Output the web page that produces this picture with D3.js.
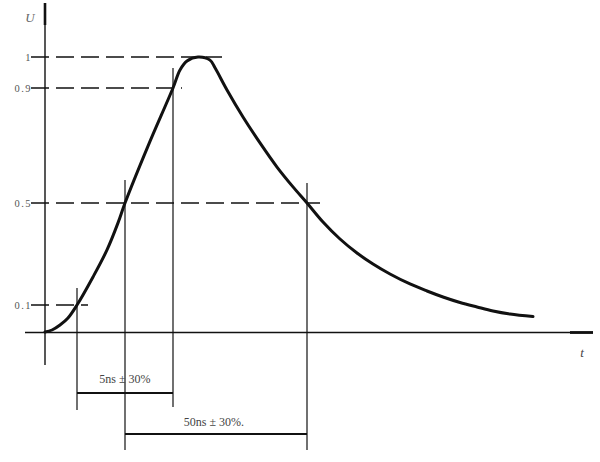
<!DOCTYPE html>
<html><head><meta charset="utf-8">
<script src="https://cdn.jsdelivr.net/npm/d3@7"></script>
<style>body{margin:0;background:#fff}svg{display:block}</style>
</head><body>
<svg id="c" width="600" height="462"></svg>
<script>
// pulse waveform: t in arbitrary units, U normalised
const tValues = [0, 1.4, 3, 4.6, 6.4, 9.6, 12.4, 14.6, 16, 20.6, 25.6, 27, 28.4, 30.6, 33, 34, 36.4, 39.6, 43, 46.4, 49.6, 52.4, 55.6, 59, 62.4, 65.6, 69, 73, 76.4, 79.6, 83, 86.4, 89.6, 93, 97.6];
const uValues = [0, 0.0074, 0.026, 0.052, 0.1, 0.210, 0.316, 0.422, 0.5, 0.698, 0.9, 0.958, 0.987, 1.0, 0.99, 0.965, 0.893, 0.799, 0.709, 0.625, 0.556, 0.5, 0.4255, 0.3588, 0.3039, 0.2608, 0.2216, 0.1824, 0.1549, 0.1314, 0.1098, 0.0926, 0.0778, 0.0667, 0.0574];
const levelTicks = [0.1, 0.5, 0.9, 1];
const levelLabels = ["0.1", "0.5", "0.9", "1"];
// marker times where levels are crossed
const crossTimes = [6.4, 16, 25.6, 52.4];
const levelLineEnds = [8.6, 55, 27.4, 35.4]; // dashed line end time for each level tick
const spanLabels = ["5ns ± 30%", "50ns ± 30%."];
const spanStarts = [6.4, 16];
const spanEnds = [25.6, 52.4];

const svg = d3.select("#c");
const x = d3.scaleLinear().domain([0, 100]).range([45, 545]);
const y = d3.scaleLinear().domain([0, 0.1, 0.5, 0.9, 1]).range([332, 305, 203, 88, 57]);
const ink = "#111";

// axes lines
svg.append("line").attr("x1", x(0)).attr("x2", x(0)).attr("y1", 4).attr("y2", 365).attr("stroke", ink).attr("stroke-width", 1.4);
svg.append("line").attr("x1", x(0)).attr("x2", x(0)).attr("y1", 3).attr("y2", 25).attr("stroke", ink).attr("stroke-width", 2.6);
svg.append("line").attr("x1", 25).attr("x2", 593).attr("y1", y(0) + 0.5).attr("y2", y(0) + 0.5).attr("stroke", ink).attr("stroke-width", 1.6);
svg.append("line").attr("x1", 570).attr("x2", 593).attr("y1", y(0) + 0.5).attr("y2", y(0) + 0.5).attr("stroke", ink).attr("stroke-width", 2.8);

// tick labels via axis
const ax = svg.append("g").attr("transform", `translate(${x(0) - 13},0)`)
  .call(d3.axisLeft(y).tickValues(levelTicks).tickSize(0).tickPadding(0)
    .tickFormat((d, i) => levelLabels[i]));
ax.select(".domain").remove();
ax.selectAll("text").attr("font-family", "Liberation Serif, serif").attr("font-size", 10.5)
  .attr("fill", "#555").attr("letter-spacing", 1.5);

// dashed level lines
svg.append("g").selectAll("line").data(levelTicks).join("line")
  .attr("x1", 31).attr("x2", (d, i) => x(levelLineEnds[i]))
  .attr("y1", d => y(d)).attr("y2", d => y(d))
  .attr("stroke", ink).attr("stroke-width", 1.5).attr("stroke-dasharray", "18,7");

// vertical marker lines
const vTop = [288, 180, 68, 183];
const vBot = [410, 450, 407, 450];
svg.append("g").selectAll("line").data(crossTimes).join("line")
  .attr("x1", d => x(d)).attr("x2", d => x(d))
  .attr("y1", (d, i) => vTop[i]).attr("y2", (d, i) => vBot[i])
  .attr("stroke", ink).attr("stroke-width", 1.2);

// span dimension lines
const spanY = [393, 434];
svg.append("g").selectAll("line").data(spanLabels).join("line")
  .attr("x1", (d, i) => x(spanStarts[i])).attr("x2", (d, i) => x(spanEnds[i]))
  .attr("y1", (d, i) => spanY[i]).attr("y2", (d, i) => spanY[i])
  .attr("stroke", ink).attr("stroke-width", 2);
const labelY = [383, 426];
const labelX = [125, 214];
svg.append("g").selectAll("text").data(spanLabels).join("text")
  .attr("x", (d, i) => labelX[i]).attr("y", (d, i) => labelY[i])
  .attr("text-anchor", "middle").attr("font-family", "Liberation Serif, serif")
  .attr("font-size", 12).attr("fill", "#444").text(d => d);

// curve
const pts = tValues.map((t, i) => [t, uValues[i]]);
svg.append("path").datum(pts)
  .attr("d", d3.line().x(d => x(d[0])).y(d => y(d[1])).curve(d3.curveCatmullRom.alpha(0.5)))
  .attr("fill", "none").attr("stroke", ink).attr("stroke-width", 3).attr("stroke-linecap", "round");

// axis names
svg.append("text").attr("x", 30).attr("y", 22).attr("text-anchor", "middle")
  .attr("font-family", "Liberation Serif, serif").attr("font-style", "italic")
  .attr("font-size", 13).attr("fill", "#666").text("U");
svg.append("text").attr("x", 582).attr("y", 357).attr("text-anchor", "middle")
  .attr("font-family", "Liberation Serif, serif").attr("font-style", "italic")
  .attr("font-size", 13).attr("fill", "#444").text("t");
</script>
</body></html>
